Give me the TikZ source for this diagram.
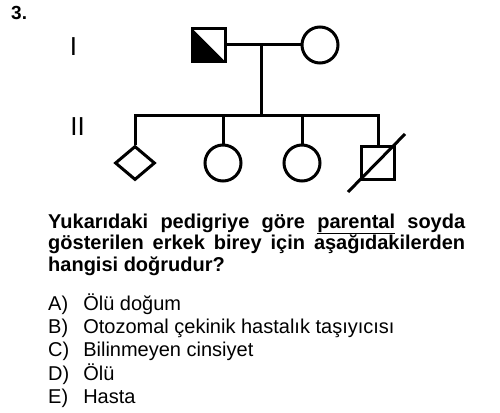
\documentclass[tikz,border=0pt]{standalone}
\usepackage{fontspec}
\setmainfont{Liberation Sans}
\usetikzlibrary{shapes.geometric,matrix}

\begin{document}
\begin{tikzpicture}[x=1pt,y=-1pt,
    ped/.style={draw, line width=3pt, inner sep=0pt},
    male/.style={ped, rectangle, minimum size=33pt},
    female/.style={ped, circle, minimum size=36pt},
    unknown/.style={ped, diamond, minimum width=40pt, minimum height=34pt},
    link/.style={line width=3pt, line join=miter},
    gen/.style={font=\fontsize{26}{26}\selectfont, anchor=base, inner sep=0pt},
    carrier/.style={path picture={\fill (path picture bounding box.north west)
        -- (path picture bounding box.south west)
        -- (path picture bounding box.south east) -- cycle;}}]
  \useasboundingbox (0,0) rectangle (500,412);

  % generations
  \node[font=\bfseries\fontsize{19}{19}\selectfont, anchor=base west, inner sep=0pt] (num) at (11,20) {3.};
  \node[gen] (genI) at (73.5,56) {I};
  \node[gen] (genII) at (77.5,135) {II};

  % parents
  \node[male, carrier] (father) at (208.5,45) {};
  \node[female] (mother) at (320,45) {};
  \coordinate (mid) at (261,45);
  \coordinate (sib) at (261,115);

  % children
  \node[unknown] (ch1) at (135,163) {};
  \node[female] (ch2) at (223,163) {};
  \node[female] (ch3) at (302,163) {};
  \node[male] (ch4) at (378,163) {};

  \draw[link] (father) -- (mother);
  \draw[link] (mid) -- (sib);
  \draw[link] (ch1.north) |- (ch4.north |- sib) -- (ch4.north);
  \draw[link] (ch2.north) -- (ch2.north |- sib);
  \draw[link] (ch3.north) -- (ch3.north |- sib);
  \draw[link] ([shift={(-30,29)}]ch4.center) -- ([shift={(27,-29)}]ch4.center);

  % question
  \node[anchor=base west, inner sep=0pt, text width=417pt, align=justify,
    font=\bfseries\fontsize{20}{21.5}\selectfont] (question) at (48,228)
    {Yukarıdaki pedigriye göre \underline{parental} soyda\linebreak
     gösterilen erkek birey için aşağıdakilerden\linebreak
     hangisi doğrudur?};

  \matrix (opts) [matrix of nodes, anchor=north west, inner sep=0pt,
    column sep=14pt, row sep=3.3pt,
    nodes={anchor=west, inner sep=0pt, text height=15pt, text depth=5pt,
      font=\fontsize{20}{20}\selectfont}]
    at (48,295)
  {
    A) & Ölü doğum \\
    B) & Otozomal çekinik hastalık taşıyıcısı \\
    C) & Bilinmeyen cinsiyet \\
    D) & Ölü \\
    E) & Hasta \\
  };
\end{tikzpicture}
\end{document}
